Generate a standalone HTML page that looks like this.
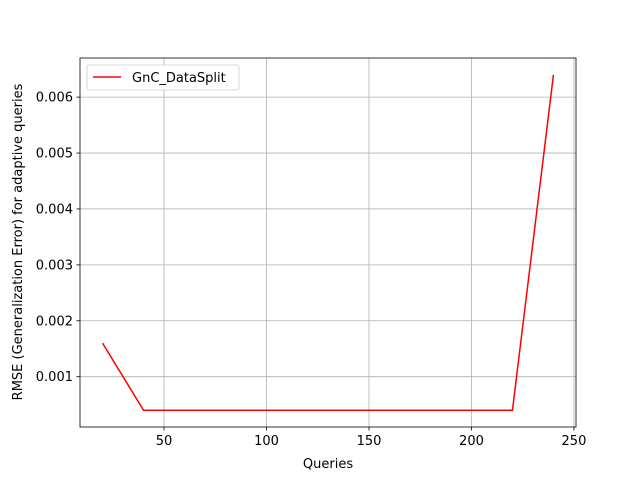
<!DOCTYPE html>
<html><head><meta charset="utf-8"><style>
body{margin:0;background:#fff;font-family:"Liberation Sans","DejaVu Sans",sans-serif;}
svg text{font-family:"DejaVu Sans","Liberation Sans",sans-serif;font-size:13px;fill:#000;}
</style></head><body>
<svg id="chart" width="640" height="480">
<rect width="640" height="480" fill="#fff"/>
<g id="grid"></g>
<g id="ticks"></g>
<polyline id="line" fill="none" stroke="#ff0000" stroke-width="1.5"/>
<rect x="80" y="58" width="496" height="369" fill="none" stroke="#000" stroke-width="0.8"/>
<text x="328" y="468" text-anchor="middle">Queries</text>
<text transform="translate(22,242) rotate(-90)" text-anchor="middle">RMSE (Generalization Error) for adaptive queries</text>
<g>
<rect x="87" y="65" width="152" height="25" rx="2" fill="#fff" stroke="#ccc" stroke-width="0.8"/>
<line x1="93" y1="77" x2="121" y2="77" stroke="#ff0000" stroke-width="1.5"/>
<text x="132" y="82">GnC_DataSplit</text>
</g>
</svg>
<script>
const queries=[20,40,60,80,100,120,140,160,180,200,220,240];
const rmse=[0.0016,0.0004,0.0004,0.0004,0.0004,0.0004,0.0004,0.0004,0.0004,0.0004,0.0004,0.0064];
const xTicks=[50,100,150,200,250];
const yTicks=[0.001,0.002,0.003,0.004,0.005,0.006];
const yTickLabels=["0.001","0.002","0.003","0.004","0.005","0.006"];
const L=80,R=576,T=58,B=427;
const x0=9,x1=251,y0=0.0001,y1=0.0067;
const sx=v=>L+(v-x0)/(x1-x0)*(R-L);
const sy=v=>B-(v-y0)/(y1-y0)*(B-T);
const NS="http://www.w3.org/2000/svg";
const grid=document.getElementById('grid'),ticks=document.getElementById('ticks');
function mk(tag,attrs,parent){const e=document.createElementNS(NS,tag);for(const k in attrs)e.setAttribute(k,attrs[k]);parent.appendChild(e);return e;}
xTicks.forEach(v=>{const x=sx(v);
const g=mk('line',{x1:x,x2:x,y1:T,y2:B,stroke:'#b0b0b0','stroke-width':0.8},grid);


const t=mk('line',{x1:x,x2:x,y1:B,y2:B+3.5,stroke:'#000','stroke-width':0.8},ticks);


const l=mk('text',{x:x,y:B+18,'text-anchor':'middle'},ticks);l.textContent=v;

});
yTicks.forEach((v,i)=>{const y=sy(v);
const g=mk('line',{x1:L,x2:R,y1:y,y2:y,stroke:'#b0b0b0','stroke-width':0.8},grid);


const t=mk('line',{x1:L-3.5,x2:L,y1:y,y2:y,stroke:'#000','stroke-width':0.8},ticks);


const l=mk('text',{x:L-7,y:y+4.5,'text-anchor':'end'},ticks);l.textContent=yTickLabels[i];

});
document.getElementById('line').setAttribute('points',queries.map((q,i)=>sx(q)+','+sy(rmse[i])).join(' '));
</script>
</body></html>
